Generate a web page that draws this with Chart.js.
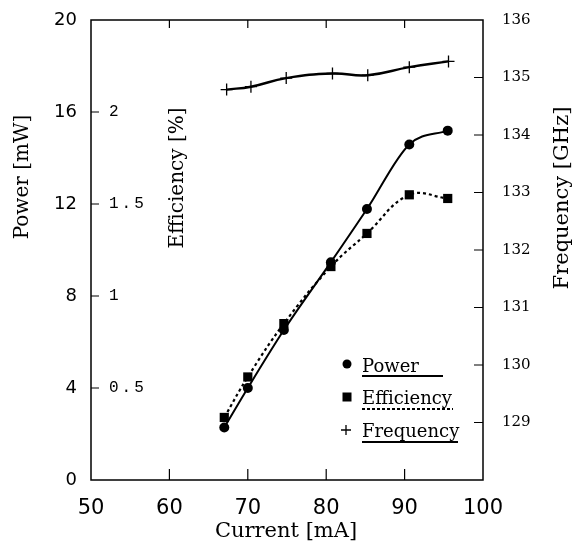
<!DOCTYPE html>
<html>
<head>
<meta charset="utf-8">
<script src="https://cdn.jsdelivr.net/npm/chart.js@4.4.1/dist/chart.umd.min.js"></script>
<style>
  body { margin: 0; background: #fff; }
  #box { width: 577px; height: 552px; position: relative; }
</style>
</head>
<body>
<div id="box"><canvas id="PowerGraph"></canvas></div>
<script>
// Data

const current = [67, 70, 74.6, 80.6, 85.2, 90.6, 95.5]
const power = [2.28, 4.0, 6.52, 9.47, 11.78, 14.59, 15.19]
const efficiency = [0.34, 0.56, 0.85, 1.16, 1.34, 1.55, 1.53]

const freqCurrent = [67.3, 70.4, 74.9, 80.8, 85.3, 90.6, 95.6]
const frequency = [134.79, 134.84, 134.99, 135.07, 135.04, 135.18, 135.28]

const currentTicks = [60, 70, 80, 90]
const powerTicks = [4, 8, 12, 16]
const effTicks = [0.5, 1, 1.5, 2]
const freqTicks = [129, 130, 131, 132, 133, 134, 135]

const serif = "'DejaVu Serif', serif"


// helper
function toPoints(xs, ys) {
    let out = []
    for (let i = 0; i < xs.length; i++) {
        out.push({x: xs[i], y: ys[i]})
    }
    return out
}


// Frame, inward ticks, inner efficiency labels, titles and legend
const decorPlugin = {
    id: 'decor',
    afterDraw(chart) {
        const ctx = chart.ctx
        const area = chart.chartArea
        const sx = chart.scales.x
        const sy = chart.scales.y
        const se = chart.scales.yEff
        const sf = chart.scales.yFreq

        ctx.save()
        ctx.strokeStyle = '#000'
        ctx.fillStyle = '#000'
        ctx.lineWidth = 1.5
        ctx.strokeRect(area.left, area.top, area.right - area.left, area.bottom - area.top)

        ctx.lineWidth = 1.2
        ctx.beginPath()
        currentTicks.forEach(v => {
            const px = sx.getPixelForValue(v)
            ctx.moveTo(px, area.bottom); ctx.lineTo(px, area.bottom - 11)
            ctx.moveTo(px, area.top); ctx.lineTo(px, area.top + 8)
        })
        powerTicks.forEach(v => {
            const py = sy.getPixelForValue(v)
            ctx.moveTo(area.left, py); ctx.lineTo(area.left + 8, py)
        })
        freqTicks.forEach(v => {
            const py = sf.getPixelForValue(v)
            ctx.moveTo(area.right, py); ctx.lineTo(area.right - 9, py)
        })
        ctx.stroke()

        // efficiency labels inside the plot
        ctx.font = "16px 'Liberation Mono', monospace"
        ctx.letterSpacing = '3px'
        ctx.textAlign = 'left'
        ctx.textBaseline = 'middle'
        effTicks.forEach(v => {
            ctx.fillText(String(v), area.left + 18, se.getPixelForValue(v))
        })
        ctx.letterSpacing = '0px'

        // axis titles
        ctx.textAlign = 'center'
        ctx.font = '21px ' + serif
        ctx.fillText('Current [mA]', 286, 532)

        ctx.save()
        ctx.translate(23, 177)
        ctx.rotate(-Math.PI / 2)
        ctx.font = '20px ' + serif
        ctx.fillText('Power [mW]', 0, 0)
        ctx.restore()

        ctx.save()
        ctx.translate(178, 178)
        ctx.rotate(-Math.PI / 2)
        ctx.font = '20px ' + serif
        ctx.fillText('Efficiency [%]', 0, 0)
        ctx.restore()

        ctx.save()
        ctx.translate(563, 198)
        ctx.rotate(-Math.PI / 2)
        ctx.font = '21px ' + serif
        ctx.fillText('Frequency [GHz]', 0, 0)
        ctx.restore()

        // legend
        ctx.font = '18px ' + serif
        ctx.textAlign = 'left'
        ctx.textBaseline = 'alphabetic'

        ctx.beginPath()
        ctx.arc(347, 364, 4.5, 0, Math.PI * 2)
        ctx.fill()
        ctx.fillText('Power', 362, 372)
        ctx.lineWidth = 2
        ctx.beginPath()
        ctx.moveTo(362, 376); ctx.lineTo(443, 376)
        ctx.stroke()

        ctx.fillRect(342.5, 392.5, 9, 9)
        ctx.fillText('Efficiency', 362, 404)
        ctx.setLineDash([3, 2])
        ctx.beginPath()
        ctx.moveTo(362, 409); ctx.lineTo(453, 409)
        ctx.stroke()
        ctx.setLineDash([])

        ctx.lineWidth = 1.3
        ctx.beginPath()
        ctx.moveTo(341, 430); ctx.lineTo(351, 430)
        ctx.moveTo(346, 425); ctx.lineTo(346, 435)
        ctx.stroke()
        ctx.fillText('Frequency', 362, 437)
        ctx.lineWidth = 2
        ctx.beginPath()
        ctx.moveTo(362, 442); ctx.lineTo(458, 442)
        ctx.stroke()

        ctx.restore()
    }
}


var ctx = document.getElementById('PowerGraph').getContext('2d');

var PowerGraph = new Chart(ctx, {
    type: 'line',
    data: {
        datasets: [{
            label: 'Power',
            data: toPoints(current, power),
            yAxisID: 'y',
            borderColor: '#000',
            backgroundColor: '#000',
            borderWidth: 2,
            cubicInterpolationMode: 'monotone',
            pointStyle: 'circle',
            pointRadius: 5,
            pointBorderWidth: 0
        }, {
            label: 'Efficiency',
            data: toPoints(current, efficiency),
            yAxisID: 'yEff',
            borderColor: '#000',
            backgroundColor: '#000',
            borderWidth: 2.2,
            borderDash: [3, 3],
            tension: 0.4,
            pointStyle: 'rect',
            pointRadius: 6.5,
            pointBorderWidth: 0
        }, {
            label: 'Frequency',
            data: toPoints(freqCurrent, frequency),
            yAxisID: 'yFreq',
            borderColor: '#000',
            backgroundColor: '#000',
            borderWidth: 2.4,
            tension: 0.45,
            pointStyle: 'cross',
            pointRadius: 6,
            pointBorderWidth: 1.3
        }]
    },
    options: {
        responsive: true,
        maintainAspectRatio: false,
        animation: false,
        layout: {
            padding: {top: 17, left: 0, right: 0, bottom: 0}
        },
        scales: {
            x: {
                type: 'linear',
                position: 'bottom',
                min: 50,
                max: 100,
                grid: {display: false},
                border: {display: false},
                ticks: {
                    stepSize: 10,
                    color: '#000',
                    padding: 8,
                    maxRotation: 0,
                    font: {family: "'DejaVu Sans', sans-serif", size: 21}
                },
                afterFit: function(scale) { scale.height = 72 }
            },
            y: {
                position: 'left',
                min: 0,
                max: 20,
                grid: {display: false},
                border: {display: false},
                ticks: {
                    stepSize: 4,
                    color: '#000',
                    padding: 6,
                    font: {family: "'DejaVu Sans', sans-serif", size: 18}
                },
                afterFit: function(scale) { scale.width = 91 }
            },
            yEff: {
                display: false,
                min: 0,
                max: 2.5
            },
            yFreq: {
                position: 'right',
                min: 128,
                max: 136,
                grid: {display: false},
                border: {display: false},
                ticks: {
                    stepSize: 1,
                    color: '#000',
                    padding: 11,
                    font: {family: serif, size: 15},
                    callback: function(v) { return v == 128 ? '' : v }
                },
                afterFit: function(scale) { scale.width = 94 }
            }
        },
        plugins: {
            legend: {display: false},
            tooltip: {enabled: false}
        }
    },
    plugins: [decorPlugin]
});
</script>
</body>
</html>
